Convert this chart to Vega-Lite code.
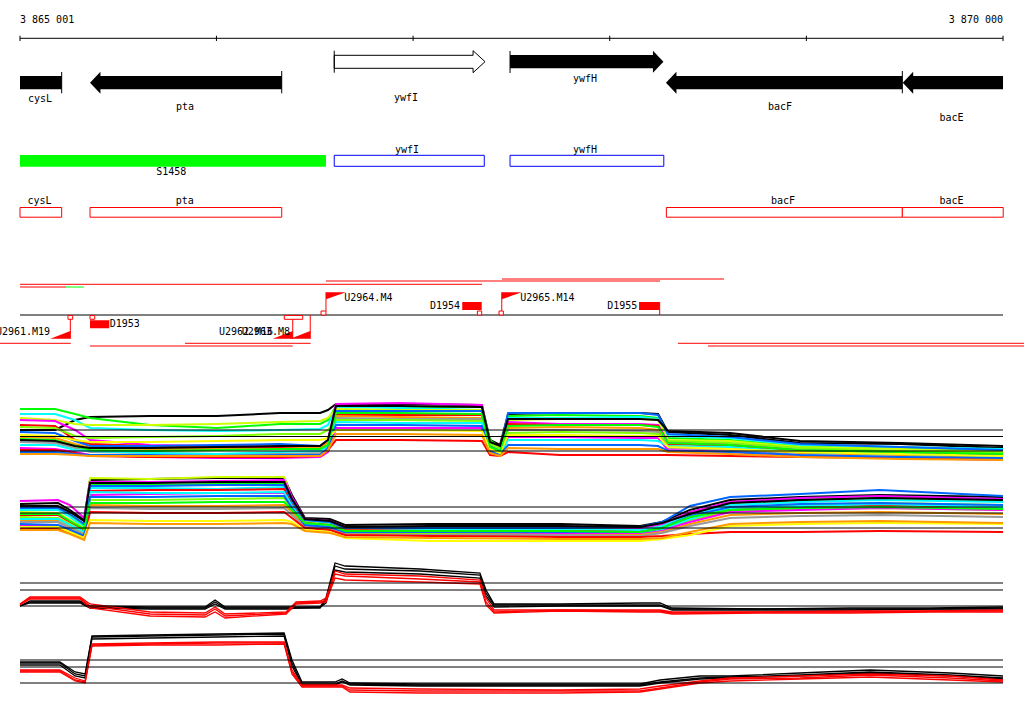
{
"$schema": "https://vega.github.io/schema/vega-lite/v6.json",
"padding": 0,
"spacing": 0,
"bounds": "flush",
"background": "white",
"config": {"view": {"stroke": null}, "axis": {"disable": true}, "legend": {"disable": true}, "text": {"font": "DejaVu Sans Mono", "fontSize": 10, "baseline": "middle", "color": "black"}},
"vconcat": [
{
"width": 1024, "height": 370,
"encoding": {
 "x": {"field": "a", "type": "quantitative", "scale": {"domain": [3864899.3, 3870106.7], "nice": false, "zero": false}, "axis": null},
 "y": {"field": "t", "type": "quantitative", "scale": {"domain": [0, 37], "reverse": true, "nice": false, "zero": false}, "axis": null}
},
"layer": [
 {"data": {"values": [{"a": 3865001, "b": 3870000, "t": 3.83}]}, "mark": {"type": "rule", "color": "black", "strokeWidth": 1}, "encoding": {"x2": {"field": "b"}}},
 {"data": {"values": [{"a": 3865001, "t": 3.57, "u": 4.1}, {"a": 3866000, "t": 3.57, "u": 4.1}, {"a": 3867000, "t": 3.57, "u": 4.1}, {"a": 3868000, "t": 3.57, "u": 4.1}, {"a": 3869000, "t": 3.57, "u": 4.1}, {"a": 3870000, "t": 3.57, "u": 4.1}]}, "mark": {"type": "rule", "color": "black", "strokeWidth": 1}, "encoding": {"y2": {"field": "u"}}},
 {"data": {"values": [{"a": 3865001, "t": 2.03, "label": "3 865 001"}]}, "mark": {"type": "text", "align": "left"}, "encoding": {"text": {"field": "label"}}},
 {"data": {"values": [{"a": 3870000, "t": 2.03, "label": "3 870 000"}]}, "mark": {"type": "text", "align": "right"}, "encoding": {"text": {"field": "label"}}},
 {"data": {"values": [
   {"a": 3865001, "b": 3865213, "t": 7.6, "u": 8.93},
   {"a": 3865403, "b": 3866332, "t": 7.6, "u": 8.93},
   {"a": 3867493, "b": 3868220, "t": 5.5, "u": 6.83},
   {"a": 3868333, "b": 3869488, "t": 7.6, "u": 8.93},
   {"a": 3869537, "b": 3870000, "t": 7.6, "u": 8.93}]},
  "mark": {"type": "rect", "color": "black"}, "encoding": {"x2": {"field": "b"}, "y2": {"field": "u"}}},
 {"data": {"values": [{"a": 3865357, "t": 8.27}, {"a": 3868286, "t": 8.27}, {"a": 3869490, "t": 8.27}]},
  "mark": {"type": "point", "shape": "M 0 0 L 0.95 -1 L 0.95 1 Z", "size": 484, "filled": true, "color": "black", "opacity": 1, "strokeWidth": 0}},
 {"data": {"values": [{"a": 3868273, "t": 6.17}]},
  "mark": {"type": "point", "shape": "M 0 0 L -0.95 -1 L -0.95 1 Z", "size": 484, "filled": true, "color": "black", "opacity": 1, "strokeWidth": 0}},
 {"data": {"values": [
   {"a": 3866599, "t": 5.53, "o": 1}, {"a": 3867305, "t": 5.53, "o": 2}, {"a": 3867305, "t": 5.07, "o": 3}, {"a": 3867366, "t": 6.17, "o": 4},
   {"a": 3867305, "t": 7.27, "o": 5}, {"a": 3867305, "t": 6.83, "o": 6}, {"a": 3866599, "t": 6.83, "o": 7}, {"a": 3866599, "t": 5.53, "o": 8}]},
  "mark": {"type": "line", "color": "black", "strokeWidth": 1}, "encoding": {"order": {"field": "o", "type": "quantitative"}}},
 {"data": {"values": [
   {"a": 3865213, "t": 7.2, "u": 9.33}, {"a": 3866332, "t": 7.1, "u": 9.33}, {"a": 3869488, "t": 7.1, "u": 9.33},
   {"a": 3866599, "t": 5.07, "u": 7.27}, {"a": 3867493, "t": 5.1, "u": 7.3}]},
  "mark": {"type": "rule", "color": "black", "strokeWidth": 1}, "encoding": {"y2": {"field": "u"}}},
 {"data": {"values": [
   {"a": 3865103, "t": 9.85, "label": "cysL"}, {"a": 3865840, "t": 10.7, "label": "pta"}, {"a": 3866964, "t": 9.8, "label": "ywfI"},
   {"a": 3867874, "t": 7.9, "label": "ywfH"}, {"a": 3868866, "t": 10.7, "label": "bacF"}, {"a": 3869738, "t": 11.75, "label": "bacE"}]},
  "mark": {"type": "text", "align": "center"}, "encoding": {"text": {"field": "label"}}},
 {"data": {"values": [{"a": 3865001, "b": 3866557, "t": 15.5, "u": 16.67}]}, "mark": {"type": "rect", "color": "#00ff00"}, "encoding": {"x2": {"field": "b"}, "y2": {"field": "u"}}},
 {"data": {"values": [{"a": 3866599, "b": 3867362, "t": 15.53, "u": 16.63}, {"a": 3867493, "b": 3868275, "t": 15.53, "u": 16.63}]},
  "mark": {"type": "rect", "fill": "white", "stroke": "#0000ff", "strokeWidth": 1}, "encoding": {"x2": {"field": "b"}, "y2": {"field": "u"}}},
 {"data": {"values": [
   {"a": 3865001, "b": 3865213, "t": 20.75, "u": 21.72}, {"a": 3865357, "b": 3866332, "t": 20.75, "u": 21.72},
   {"a": 3868288, "b": 3869488, "t": 20.75, "u": 21.72}, {"a": 3869488, "b": 3870001, "t": 20.75, "u": 21.72}]},
  "mark": {"type": "rect", "fill": "white", "stroke": "#ff0000", "strokeWidth": 1}, "encoding": {"x2": {"field": "b"}, "y2": {"field": "u"}}},
 {"data": {"values": [
   {"a": 3865770, "t": 17.23, "label": "S1458"}, {"a": 3866969, "t": 14.95, "label": "ywfI"}, {"a": 3867874, "t": 14.95, "label": "ywfH"},
   {"a": 3865100, "t": 20.08, "label": "cysL"}, {"a": 3865839, "t": 20.08, "label": "pta"}, {"a": 3868881, "t": 20.08, "label": "bacF"}, {"a": 3869738, "t": 20.08, "label": "bacE"}]},
  "mark": {"type": "text", "align": "center"}, "encoding": {"text": {"field": "label"}}},
 {"data": {"values": [
   {"a": 3866557, "b": 3868256, "t": 28.1}, {"a": 3867452, "b": 3868581, "t": 27.9}, {"a": 3865001, "b": 3867350, "t": 28.43},
   {"a": 3865001, "b": 3865235, "t": 28.7}, {"a": 3864899.3, "b": 3865259, "t": 34.33}, {"a": 3865840, "b": 3866479, "t": 34.33},
   {"a": 3868347, "b": 3870106.7, "t": 34.33}, {"a": 3865357, "b": 3866388, "t": 34.6}, {"a": 3868500, "b": 3870106.7, "t": 34.6}]},
  "mark": {"type": "rule", "color": "#ff0000", "strokeWidth": 1, "clip": true}, "encoding": {"x2": {"field": "b"}}},
 {"data": {"values": [{"a": 3865235, "b": 3865326, "t": 28.7}]}, "mark": {"type": "rule", "color": "#00ff00", "strokeWidth": 1}, "encoding": {"x2": {"field": "b"}}},
 {"data": {"values": [{"a": 3865001, "b": 3870000, "t": 31.5}]}, "mark": {"type": "rule", "color": "black", "strokeWidth": 1}, "encoding": {"x2": {"field": "b"}}},
 {"data": {"values": [
   {"a": 3867250, "b": 3867349, "t": 30.2, "u": 31.0}, {"a": 3868149, "b": 3868254, "t": 30.2, "u": 31.0}, {"a": 3865357, "b": 3865455, "t": 32.03, "u": 32.83}]},
  "mark": {"type": "rect", "color": "#ff0000"}, "encoding": {"x2": {"field": "b"}, "y2": {"field": "u"}}},
 {"data": {"values": [
   {"a": 3866532, "b": 3866557, "t": 31.1, "u": 31.5}, {"a": 3867327, "b": 3867349, "t": 31.1, "u": 31.5}, {"a": 3867437, "b": 3867459, "t": 31.1, "u": 31.5},
   {"a": 3865245, "b": 3865269, "t": 31.55, "u": 31.93}, {"a": 3865357, "b": 3865381, "t": 31.55, "u": 31.93}, {"a": 3866345, "b": 3866439, "t": 31.55, "u": 31.93}]},
  "mark": {"type": "rect", "fill": "white", "stroke": "#ff0000", "strokeWidth": 1}, "encoding": {"x2": {"field": "b"}, "y2": {"field": "u"}}},
 {"data": {"values": [
   {"a": 3866557, "t": 29.23, "u": 31.1}, {"a": 3867451, "t": 29.23, "u": 31.1}, {"a": 3865257, "t": 31.93, "u": 33.87},
   {"a": 3866388, "t": 31.93, "u": 33.87}, {"a": 3866477, "t": 31.5, "u": 33.87}, {"a": 3868254, "t": 30.2, "u": 31.5}]},
  "mark": {"type": "rule", "color": "#ff0000", "strokeWidth": 1}, "encoding": {"y2": {"field": "u"}}},
 {"data": {"values": [{"a": 3866557, "t": 29.23}, {"a": 3867451, "t": 29.23}]},
  "mark": {"type": "point", "shape": "M 0 0 L 2 0 L 0 0.7 Z", "size": 400, "filled": true, "color": "#ff0000", "opacity": 1, "strokeWidth": 0}},
 {"data": {"values": [{"a": 3865257, "t": 33.87}, {"a": 3866388, "t": 33.87}, {"a": 3866477, "t": 33.87}]},
  "mark": {"type": "point", "shape": "M 0 0 L -2 0 L 0 -0.77 Z", "size": 400, "filled": true, "color": "#ff0000", "opacity": 1, "strokeWidth": 0}},
 {"data": {"values": [
   {"a": 3866650, "t": 29.78, "label": "U2964.M4"}, {"a": 3867545, "t": 29.78, "label": "U2965.M14"}, {"a": 3865457, "t": 32.4, "label": "D1953"}]},
  "mark": {"type": "text", "align": "left"}, "encoding": {"text": {"field": "label"}}},
 {"data": {"values": [
   {"a": 3867239, "t": 30.6, "label": "D1954"}, {"a": 3868140, "t": 30.6, "label": "D1955"}, {"a": 3865154, "t": 33.2, "label": "U2961.M19"},
   {"a": 3866288, "t": 33.2, "label": "U2962.M16"}, {"a": 3866374, "t": 33.2, "label": "U2963.M8"}]},
  "mark": {"type": "text", "align": "right", "clip": true}, "encoding": {"text": {"field": "label"}}}
]
},
{
"width": 1024, "height": 95,
"encoding": {
 "x": {"field": "a", "type": "quantitative", "scale": {"domain": [3864899.3, 3870106.7], "nice": false, "zero": false}, "axis": null},
 "y": {"field": "v", "type": "quantitative", "scale": {"domain": [-1.4, 8.1], "nice": false, "zero": false}, "axis": null}
},
"layer": [
 {"data": {"values": [
{"a":3865001,"k":2.1,"g":4.2,"c":3.7,"ye":3.3,"m":3.1,"r":2.6,"bl":1.9,"o":1.4,"gr":0.9,"l":2.4,"m2":0.3,"r2":0.1,"c2":0.6,"b2":-0.1,"y2":1.6,"o2":-0.3,"g2":1.2,"k2":1.1},
{"a":3865179,"k":2.1,"g":4.2,"c":3.7,"ye":3.1,"m":3.0,"r":2.5,"bl":1.8,"o":1.3,"gr":0.8,"l":2.3,"m2":0.2,"r2":0.1,"c2":0.6,"b2":-0.1,"y2":1.5,"o2":-0.3,"g2":1.1,"k2":1.0},
{"a":3865281,"k":3.1,"g":3.7,"c":3.1,"ye":2.7,"m":2.1,"r":1.1,"bl":1.0,"o":0.7,"gr":0.3,"l":1.5,"m2":-0.1,"r2":-0.2,"c2":0.1,"b2":-0.3,"y2":1.1,"o2":-0.4,"g2":0.5,"k2":0.5},
{"a":3865357,"k":3.4,"g":3.3,"c":2.3,"ye":2.6,"m":1.1,"r":0.7,"bl":0.5,"o":0.3,"gr":-0.1,"l":1.3,"m2":-0.4,"r2":-0.5,"c2":0.0,"b2":-0.4,"y2":0.9,"o2":-0.5,"g2":0.1,"k2":0.3},
{"a":3865662,"k":3.5,"g":2.6,"c":2.1,"ye":2.6,"m":0.6,"r":0.5,"bl":0.5,"o":0.2,"gr":-0.2,"l":1.4,"m2":-0.6,"r2":-0.6,"c2":-0.2,"b2":-0.4,"y2":0.9,"o2":-0.5,"g2":0.0,"k2":0.3},
{"a":3866003,"k":3.5,"g":2.3,"c":2.0,"ye":2.7,"m":0.5,"r":0.3,"bl":0.6,"o":0.2,"gr":-0.3,"l":1.5,"m2":-0.7,"r2":-0.6,"c2":-0.3,"b2":-0.5,"y2":1.0,"o2":-0.5,"g2":0.1,"k2":0.4},
{"a":3866323,"k":3.8,"g":2.7,"c":2.1,"ye":2.9,"m":0.4,"r":0.3,"bl":0.7,"o":0.2,"gr":-0.3,"l":1.7,"m2":-0.7,"r2":-0.6,"c2":-0.1,"b2":-0.4,"y2":1.1,"o2":-0.5,"g2":0.2,"k2":0.5},
{"a":3866527,"k":3.8,"g":2.7,"c":2.2,"ye":3.0,"m":0.5,"r":0.4,"bl":0.5,"o":0.4,"gr":-0.2,"l":1.7,"m2":-0.6,"r2":-0.5,"c2":0.0,"b2":-0.4,"y2":1.1,"o2":-0.5,"g2":0.2,"k2":0.5},
{"a":3866567,"k":4.1,"g":3.1,"c":2.6,"ye":3.3,"m":1.1,"r":0.9,"bl":1.1,"o":0.9,"gr":0.1,"l":2.1,"m2":-0.1,"r2":0.1,"c2":0.5,"b2":0.3,"y2":1.3,"o2":0.1,"g2":0.6,"k2":1.1},
{"a":3866608,"k":4.7,"g":4.5,"c":4.4,"ye":4.2,"m":4.7,"r":3.6,"bl":4.0,"o":3.5,"gr":3.3,"l":3.1,"m2":2.3,"r2":1.1,"c2":2.9,"b2":2.6,"y2":2.1,"o2":1.7,"g2":3.8,"k2":4.5},
{"a":3866934,"k":4.7,"g":4.4,"c":4.3,"ye":4.1,"m":4.8,"r":3.6,"bl":4.0,"o":3.4,"gr":3.2,"l":3.1,"m2":2.3,"r2":1.1,"c2":2.8,"b2":2.6,"y2":2.1,"o2":1.7,"g2":3.8,"k2":4.5},
{"a":3867350,"k":4.6,"g":4.4,"c":4.1,"ye":4.1,"m":4.6,"r":3.6,"bl":4.0,"o":3.3,"gr":3.2,"l":3.0,"m2":2.3,"r2":1.0,"c2":2.8,"b2":2.5,"y2":2.0,"o2":1.6,"g2":3.7,"k2":4.4},
{"a":3867391,"k":1.1,"g":1.1,"c":0.6,"ye":0.8,"m":0.4,"r":0.2,"bl":0.5,"o":0.3,"gr":0.0,"l":0.7,"m2":-0.1,"r2":-0.4,"c2":0.1,"b2":0.0,"y2":0.2,"o2":-0.2,"g2":0.4,"k2":0.9},
{"a":3867442,"k":0.6,"g":0.3,"c":0.1,"ye":0.4,"m":-0.1,"r":-0.2,"bl":0.1,"o":-0.3,"gr":-0.4,"l":0.2,"m2":-0.4,"r2":-0.5,"c2":-0.3,"b2":-0.4,"y2":-0.2,"o2":-0.5,"g2":0.0,"k2":0.5},
{"a":3867483,"k":3.7,"g":3.5,"c":3.3,"ye":3.1,"m":2.9,"r":2.7,"bl":3.8,"o":2.3,"gr":2.1,"l":1.8,"m2":1.4,"r2":-0.1,"c2":1.1,"b2":0.6,"y2":1.6,"o2":0.3,"g2":2.5,"k2":3.2},
{"a":3867747,"k":3.8,"g":3.6,"c":3.3,"ye":3.2,"m":2.7,"r":2.6,"bl":3.8,"o":2.4,"gr":2.1,"l":1.9,"m2":1.4,"r2":-0.4,"c2":1.1,"b2":0.6,"y2":1.6,"o2":0.2,"g2":2.6,"k2":3.2},
{"a":3868154,"k":3.8,"g":3.5,"c":3.4,"ye":3.2,"m":2.7,"r":2.6,"bl":3.8,"o":2.3,"gr":2.0,"l":1.8,"m2":1.3,"r2":-0.4,"c2":1.1,"b2":0.6,"y2":1.5,"o2":0.2,"g2":2.6,"k2":3.2},
{"a":3868246,"k":3.7,"g":3.3,"c":3.2,"ye":3.1,"m":2.6,"r":2.5,"bl":3.6,"o":2.1,"gr":1.9,"l":1.7,"m2":1.3,"r2":-0.4,"c2":1.0,"b2":0.5,"y2":1.5,"o2":0.2,"g2":2.4,"k2":3.1},
{"a":3868296,"k":1.9,"g":1.3,"c":1.5,"ye":1.1,"m":0.9,"r":0.7,"bl":1.7,"o":0.5,"gr":0.3,"l":1.0,"m2":0.1,"r2":-0.4,"c2":0.5,"b2":0.0,"y2":0.4,"o2":-0.1,"g2":0.8,"k2":2.0},
{"a":3868612,"k":1.6,"g":1.1,"c":1.3,"ye":1.0,"m":0.7,"r":0.5,"bl":1.4,"o":0.3,"gr":0.1,"l":0.8,"m2":-0.1,"r2":-0.5,"c2":0.4,"b2":-0.1,"y2":0.2,"o2":-0.3,"g2":0.6,"k2":1.8},
{"a":3868968,"k":0.8,"g":0.5,"c":0.6,"ye":0.4,"m":0.1,"r":0.0,"bl":0.7,"o":-0.2,"gr":-0.4,"l":0.3,"m2":-0.5,"r2":-0.6,"c2":-0.1,"b2":-0.4,"y2":-0.1,"o2":-0.6,"g2":0.1,"k2":1.0},
{"a":3869476,"k":0.7,"g":0.3,"c":0.4,"ye":0.2,"m":-0.1,"r":-0.2,"bl":0.4,"o":-0.4,"gr":-0.6,"l":0.0,"m2":-0.7,"r2":-0.7,"c2":-0.3,"b2":-0.6,"y2":-0.3,"o2":-0.8,"g2":-0.1,"k2":0.8},
{"a":3870000,"k":0.3,"g":0.1,"c":0.2,"ye":-0.1,"m":-0.4,"r":-0.5,"bl":0.1,"o":-0.6,"gr":-0.8,"l":-0.2,"m2":-0.9,"r2":-0.7,"c2":-0.5,"b2":-0.7,"y2":-0.5,"o2":-0.9,"g2":-0.3,"k2":0.5}
  ]},
  "transform": [{"fold": ["k","g","c","ye","m","r","bl","o","gr","l","m2","r2","c2","b2","y2","o2","g2","k2"], "as": ["s", "v"]}],
  "mark": {"type": "line", "strokeWidth": 2, "clip": true},
  "encoding": {"color": {"field": "s", "type": "nominal", "legend": null, "scale": {"domain": ["k","g","c","ye","m","r","bl","o","gr","l","m2","r2","c2","b2","y2","o2","g2","k2","K1","K2","K3","R1","R2","R3"], "range": ["#000000","#00ff00","#00ffff","#ccff00","#ff00ff","#ff0000","#0066ff","#ff9900","#999999","#80ff00","#ff00ff","#ff0000","#00ffff","#0066ff","#ffff00","#ff9900","#00ff00","#000000","#000000","#000000","#000000","#ff0000","#ff0000","#ff0000"]}}}
 },
 {"data": {"values": [{"a": 3865001, "b": 3870000, "v": 0}, {"a": 3865001, "b": 3870000, "v": 1.45}, {"a": 3865001, "b": 3870000, "v": 2.1}]},
  "mark": {"type": "rule", "color": "black", "strokeWidth": 1}, "encoding": {"x2": {"field": "b"}}}
]
},
{
"width": 1024, "height": 85,
"encoding": {
 "x": {"field": "a", "type": "quantitative", "scale": {"domain": [3864899.3, 3870106.7], "nice": false, "zero": false}, "axis": null},
 "y": {"field": "v", "type": "quantitative", "scale": {"domain": [-2.2, 6.3], "nice": false, "zero": false}, "axis": null}
},
"layer": [
 {"data": {"values": [
{"a":3865001,"k":2.4,"g":2.1,"c":1.8,"ye":1.6,"m":2.7,"r":1.3,"bl":2.0,"o":0.8,"gr":0.6,"l":1.1,"m2":0.3,"r2":-0.1,"c2":0.9,"b2":0.4,"y2":0.1,"o2":-0.2,"g2":1.4,"k2":2.2},
{"a":3865194,"k":2.5,"g":2.1,"c":1.8,"ye":1.5,"m":2.8,"r":1.3,"bl":2.0,"o":0.8,"gr":0.6,"l":1.0,"m2":0.3,"r2":-0.1,"c2":0.9,"b2":0.3,"y2":0.1,"o2":-0.2,"g2":1.4,"k2":2.2},
{"a":3865255,"k":1.8,"g":1.3,"c":1.1,"ye":0.8,"m":2.3,"r":0.6,"bl":1.4,"o":0.2,"gr":0.0,"l":0.4,"m2":-0.2,"r2":-0.5,"c2":0.3,"b2":-0.2,"y2":-0.4,"o2":-0.6,"g2":0.7,"k2":1.6},
{"a":3865327,"k":0.8,"g":0.3,"c":0.1,"ye":0.0,"m":1.0,"r":-0.2,"bl":0.4,"o":-0.6,"gr":-0.7,"l":-0.4,"m2":-0.9,"r2":-1.1,"c2":-0.4,"b2":-0.8,"y2":-1.0,"o2":-1.2,"g2":-0.1,"k2":0.7},
{"a":3865357,"k":4.8,"g":4.4,"c":4.0,"ye":5.0,"m":4.6,"r":3.7,"bl":4.2,"o":2.3,"gr":2.0,"l":2.8,"m2":3.3,"r2":1.6,"c2":3.6,"b2":3.1,"y2":0.8,"o2":0.5,"g2":2.5,"k2":4.5},
{"a":3865662,"k":4.9,"g":4.3,"c":4.0,"ye":4.9,"m":4.6,"r":3.8,"bl":4.2,"o":2.2,"gr":1.9,"l":2.8,"m2":3.4,"r2":1.5,"c2":3.5,"b2":3.1,"y2":0.7,"o2":0.4,"g2":2.5,"k2":4.5},
{"a":3866003,"k":5.0,"g":4.4,"c":3.9,"ye":5.1,"m":4.7,"r":3.8,"bl":4.3,"o":2.2,"gr":1.9,"l":2.9,"m2":3.5,"r2":1.5,"c2":3.5,"b2":3.2,"y2":0.7,"o2":0.4,"g2":2.6,"k2":4.6},
{"a":3866344,"k":5.0,"g":4.5,"c":4.1,"ye":5.1,"m":4.8,"r":3.9,"bl":4.3,"o":2.3,"gr":2.0,"l":3.0,"m2":3.5,"r2":1.6,"c2":3.6,"b2":3.2,"y2":0.8,"o2":0.5,"g2":2.6,"k2":4.6},
{"a":3866384,"k":3.3,"g":2.8,"c":2.5,"ye":3.0,"m":3.1,"r":2.3,"bl":2.7,"o":1.6,"gr":1.3,"l":1.9,"m2":2.1,"r2":1.0,"c2":2.2,"b2":2.0,"y2":0.6,"o2":0.4,"g2":1.8,"k2":2.9},
{"a":3866450,"k":1.0,"g":0.8,"c":0.7,"ye":0.6,"m":0.9,"r":0.5,"bl":0.8,"o":0.2,"gr":0.1,"l":0.4,"m2":0.3,"r2":0.0,"c2":0.4,"b2":0.3,"y2":-0.2,"o2":-0.3,"g2":0.5,"k2":0.9},
{"a":3866577,"k":0.9,"g":0.6,"c":0.5,"ye":0.3,"m":0.7,"r":0.3,"bl":0.6,"o":0.0,"gr":-0.1,"l":0.1,"m2":0.1,"r2":-0.2,"c2":0.2,"b2":0.1,"y2":-0.4,"o2":-0.5,"g2":0.3,"k2":0.7},
{"a":3866654,"k":0.3,"g":0.0,"c":-0.1,"ye":-0.2,"m":0.1,"r":-0.2,"bl":0.0,"o":-0.5,"gr":-0.6,"l":-0.4,"m2":-0.4,"r2":-0.7,"c2":-0.3,"b2":-0.4,"y2":-1.0,"o2":-0.9,"g2":-0.3,"k2":0.1},
{"a":3867087,"k":0.4,"g":0.0,"c":-0.1,"ye":-0.4,"m":0.1,"r":-0.3,"bl":0.0,"o":-0.5,"gr":-0.7,"l":-0.5,"m2":-0.4,"r2":-0.8,"c2":-0.3,"b2":-0.4,"y2":-1.3,"o2":-1.0,"g2":-0.3,"k2":0.2},
{"a":3867747,"k":0.4,"g":0.0,"c":-0.2,"ye":-0.6,"m":0.1,"r":-0.3,"bl":0.0,"o":-0.6,"gr":-0.7,"l":-0.5,"m2":-0.5,"r2":-0.9,"c2":-0.4,"b2":-0.4,"y2":-1.3,"o2":-1.1,"g2":-0.3,"k2":0.2},
{"a":3868154,"k":0.2,"g":0.0,"c":-0.2,"ye":-0.7,"m":0.0,"r":-0.4,"bl":0.1,"o":-0.6,"gr":-0.8,"l":-0.5,"m2":-0.5,"r2":-0.9,"c2":-0.4,"b2":-0.4,"y2":-1.3,"o2":-1.1,"g2":-0.4,"k2":0.1},
{"a":3868266,"k":0.6,"g":0.4,"c":0.2,"ye":-0.2,"m":0.4,"r":-0.1,"bl":0.6,"o":-0.4,"gr":-0.5,"l":-0.2,"m2":-0.2,"r2":-0.8,"c2":-0.1,"b2":0.0,"y2":-1.1,"o2":-1.0,"g2":0.0,"k2":0.5},
{"a":3868408,"k":1.8,"g":1.6,"c":1.4,"ye":0.8,"m":1.6,"r":1.0,"bl":2.2,"o":0.4,"gr":0.2,"l":0.8,"m2":0.6,"r2":-0.6,"c2":0.9,"b2":1.2,"y2":-0.7,"o2":-0.4,"g2":1.1,"k2":1.4},
{"a":3868612,"k":2.8,"g":2.5,"c":2.3,"ye":2.0,"m":2.6,"r":1.9,"bl":3.1,"o":1.3,"gr":1.0,"l":1.7,"m2":1.6,"r2":-0.4,"c2":2.0,"b2":2.1,"y2":0.2,"o2":0.4,"g2":1.8,"k2":2.5},
{"a":3868968,"k":3.1,"g":2.8,"c":2.6,"ye":2.3,"m":3.0,"r":2.2,"bl":3.4,"o":1.5,"gr":1.2,"l":1.9,"m2":1.8,"r2":-0.4,"c2":2.2,"b2":2.4,"y2":0.4,"o2":0.6,"g2":2.0,"k2":2.8},
{"a":3869374,"k":3.3,"g":3.0,"c":2.8,"ye":2.5,"m":3.2,"r":2.3,"bl":3.8,"o":1.6,"gr":1.3,"l":2.0,"m2":2.0,"r2":-0.3,"c2":2.4,"b2":2.5,"y2":0.5,"o2":0.7,"g2":2.1,"k2":3.0},
{"a":3870000,"k":3.1,"g":2.8,"c":2.6,"ye":2.3,"m":2.9,"r":2.1,"bl":3.2,"o":1.4,"gr":1.1,"l":1.8,"m2":1.8,"r2":-0.4,"c2":2.1,"b2":2.3,"y2":0.4,"o2":0.5,"g2":1.9,"k2":2.8}
  ]},
  "transform": [{"fold": ["k","g","c","ye","m","r","bl","o","gr","l","m2","r2","c2","b2","y2","o2","g2","k2"], "as": ["s", "v"]}],
  "mark": {"type": "line", "strokeWidth": 2, "clip": true},
  "encoding": {"color": {"field": "s", "type": "nominal", "legend": null, "scale": {"domain": ["k","g","c","ye","m","r","bl","o","gr","l","m2","r2","c2","b2","y2","o2","g2","k2","K1","K2","K3","R1","R2","R3"], "range": ["#000000","#00ff00","#00ffff","#ccff00","#ff00ff","#ff0000","#0066ff","#ff9900","#999999","#80ff00","#ff00ff","#ff0000","#00ffff","#0066ff","#ffff00","#ff9900","#00ff00","#000000","#000000","#000000","#000000","#ff0000","#ff0000","#ff0000"]}}}
 },
 {"data": {"values": [{"a": 3865001, "b": 3870000, "v": 0}, {"a": 3865001, "b": 3870000, "v": 1.5}, {"a": 3865001, "b": 3870000, "v": 2.1}]},
  "mark": {"type": "rule", "color": "black", "strokeWidth": 1}, "encoding": {"x2": {"field": "b"}}}
]
},
{
"width": 1024, "height": 78,
"encoding": {
 "x": {"field": "a", "type": "quantitative", "scale": {"domain": [3864899.3, 3870106.7], "nice": false, "zero": false}, "axis": null},
 "y": {"field": "v", "type": "quantitative", "scale": {"domain": [-2.2, 5.6], "nice": false, "zero": false}, "axis": null}
},
"layer": [
 {"data": {"values": [
{"a":3865001,"K1":0.0,"K2":0.0,"K3":0.0,"R1":0.2,"R2":0.2,"R3":0.1},
{"a":3865052,"K1":0.5,"K2":0.4,"K3":0.3,"R1":0.9,"R2":0.8,"R3":0.7},
{"a":3865306,"K1":0.5,"K2":0.4,"K3":0.3,"R1":0.9,"R2":0.8,"R3":0.7},
{"a":3865357,"K1":0.0,"K2":-0.1,"K3":-0.2,"R1":0.2,"R2":0.0,"R3":-0.2},
{"a":3865662,"K1":-0.1,"K2":-0.2,"K3":-0.3,"R1":-0.6,"R2":-0.8,"R3":-1.0},
{"a":3865942,"K1":-0.1,"K2":-0.2,"K3":-0.3,"R1":-0.7,"R2":-0.9,"R3":-1.1},
{"a":3865993,"K1":0.6,"K2":0.4,"K3":0.2,"R1":-0.1,"R2":-0.3,"R3":-0.6},
{"a":3866044,"K1":-0.1,"K2":-0.2,"K3":-0.3,"R1":-0.8,"R2":-1.0,"R3":-1.2},
{"a":3866354,"K1":-0.1,"K2":-0.2,"K3":-0.3,"R1":-0.6,"R2":-0.7,"R3":-0.8},
{"a":3866405,"K1":-0.1,"K2":-0.2,"K3":-0.2,"R1":0.4,"R2":0.3,"R3":0.2},
{"a":3866527,"K1":-0.1,"K2":-0.2,"K3":-0.1,"R1":0.5,"R2":0.4,"R3":0.3},
{"a":3866557,"K1":0.8,"K2":0.6,"K3":0.3,"R1":0.8,"R2":0.6,"R3":0.4},
{"a":3866603,"K1":4.3,"K2":4.0,"K3":3.6,"R1":3.5,"R2":3.2,"R3":2.8},
{"a":3866654,"K1":4.0,"K2":3.7,"K3":3.4,"R1":3.2,"R2":3.0,"R3":2.6},
{"a":3867035,"K1":3.7,"K2":3.5,"K3":3.2,"R1":3.0,"R2":2.7,"R3":2.4},
{"a":3867340,"K1":3.3,"K2":3.1,"K3":2.8,"R1":2.6,"R2":2.4,"R3":2.2},
{"a":3867371,"K1":1.6,"K2":1.3,"K3":1.0,"R1":0.8,"R2":0.4,"R3":0.1},
{"a":3867412,"K1":0.2,"K2":0.1,"K3":-0.1,"R1":-0.4,"R2":-0.6,"R3":-0.7},
{"a":3867747,"K1":0.2,"K2":0.1,"K3":0.0,"R1":-0.4,"R2":-0.4,"R3":-0.5},
{"a":3868154,"K1":0.3,"K2":0.1,"K3":0.0,"R1":-0.4,"R2":-0.5,"R3":-0.6},
{"a":3868256,"K1":0.3,"K2":0.1,"K3":0.0,"R1":-0.4,"R2":-0.5,"R3":-0.6},
{"a":3868317,"K1":-0.2,"K2":-0.3,"K3":-0.4,"R1":-0.6,"R2":-0.7,"R3":-0.8},
{"a":3868764,"K1":-0.3,"K2":-0.3,"K3":-0.4,"R1":-0.6,"R2":-0.6,"R3":-0.7},
{"a":3869222,"K1":-0.2,"K2":-0.3,"K3":-0.4,"R1":-0.5,"R2":-0.6,"R3":-0.7},
{"a":3869629,"K1":-0.2,"K2":-0.3,"K3":-0.3,"R1":-0.5,"R2":-0.5,"R3":-0.6},
{"a":3870000,"K1":-0.1,"K2":-0.2,"K3":-0.3,"R1":-0.4,"R2":-0.5,"R3":-0.6}
  ]},
  "transform": [{"fold": ["K1","K2","K3","R1","R2","R3"], "as": ["s", "v"]}],
  "mark": {"type": "line", "strokeWidth": 1.3, "clip": true},
  "encoding": {"color": {"field": "s", "type": "nominal", "legend": null, "scale": {"domain": ["k","g","c","ye","m","r","bl","o","gr","l","m2","r2","c2","b2","y2","o2","g2","k2","K1","K2","K3","R1","R2","R3"], "range": ["#000000","#00ff00","#00ffff","#ccff00","#ff00ff","#ff0000","#0066ff","#ff9900","#999999","#80ff00","#ff00ff","#ff0000","#00ffff","#0066ff","#ffff00","#ff9900","#00ff00","#000000","#000000","#000000","#000000","#ff0000","#ff0000","#ff0000"]}}}
 },
 {"data": {"values": [{"a": 3865001, "b": 3870000, "v": 0}, {"a": 3865001, "b": 3870000, "v": 1.6}, {"a": 3865001, "b": 3870000, "v": 2.3}]},
  "mark": {"type": "rule", "color": "black", "strokeWidth": 1}, "encoding": {"x2": {"field": "b"}}}
]
},
{
"width": 1024, "height": 86,
"encoding": {
 "x": {"field": "a", "type": "quantitative", "scale": {"domain": [3864899.3, 3870106.7], "nice": false, "zero": false}, "axis": null},
 "y": {"field": "v", "type": "quantitative", "scale": {"domain": [-3.1, 5.5], "nice": false, "zero": false}, "axis": null}
},
"layer": [
 {"data": {"values": [
{"a":3865001,"K1":2.1,"K2":2.0,"K3":1.8,"R1":1.3,"R2":1.2,"R3":1.1},
{"a":3865204,"K1":2.1,"K2":2.0,"K3":1.8,"R1":1.3,"R2":1.2,"R3":1.1},
{"a":3865281,"K1":1.1,"K2":0.9,"K3":0.7,"R1":0.5,"R2":0.3,"R3":0.2},
{"a":3865332,"K1":0.9,"K2":0.7,"K3":0.5,"R1":0.2,"R2":0.1,"R3":0.0},
{"a":3865367,"K1":4.7,"K2":4.6,"K3":4.4,"R1":3.9,"R2":3.8,"R3":3.7},
{"a":3865662,"K1":4.8,"K2":4.7,"K3":4.5,"R1":4.0,"R2":3.9,"R3":3.8},
{"a":3866003,"K1":4.9,"K2":4.8,"K3":4.6,"R1":4.1,"R2":4.0,"R3":3.8},
{"a":3866344,"K1":5.0,"K2":4.9,"K3":4.7,"R1":4.1,"R2":4.0,"R3":3.9},
{"a":3866384,"K1":2.3,"K2":2.0,"K3":1.7,"R1":1.3,"R2":1.1,"R3":0.9},
{"a":3866435,"K1":0.1,"K2":-0.1,"K3":-0.2,"R1":-0.2,"R2":-0.3,"R3":-0.4},
{"a":3866603,"K1":0.1,"K2":-0.1,"K3":-0.2,"R1":-0.2,"R2":-0.3,"R3":-0.4},
{"a":3866639,"K1":0.4,"K2":0.2,"K3":0.1,"R1":-0.2,"R2":-0.3,"R3":-0.4},
{"a":3866679,"K1":0.0,"K2":-0.1,"K3":-0.2,"R1":-0.5,"R2":-0.7,"R3":-0.9},
{"a":3867035,"K1":-0.1,"K2":-0.2,"K3":-0.3,"R1":-0.6,"R2":-0.8,"R3":-1.0},
{"a":3867747,"K1":-0.1,"K2":-0.2,"K3":-0.3,"R1":-0.7,"R2":-0.8,"R3":-1.0},
{"a":3868154,"K1":-0.1,"K2":-0.2,"K3":-0.3,"R1":-0.6,"R2":-0.8,"R3":-0.9},
{"a":3868256,"K1":0.3,"K2":0.1,"K3":0.0,"R1":-0.3,"R2":-0.5,"R3":-0.6},
{"a":3868459,"K1":0.7,"K2":0.5,"K3":0.4,"R1":0.2,"R2":0.1,"R3":0.0},
{"a":3868612,"K1":0.7,"K2":0.6,"K3":0.5,"R1":0.5,"R2":0.4,"R3":0.2},
{"a":3868968,"K1":1.0,"K2":0.8,"K3":0.7,"R1":0.7,"R2":0.5,"R3":0.4},
{"a":3869323,"K1":1.3,"K2":1.1,"K3":1.0,"R1":0.9,"R2":0.8,"R3":0.6},
{"a":3869731,"K1":1.0,"K2":0.8,"K3":0.7,"R1":0.7,"R2":0.5,"R3":0.3},
{"a":3870000,"K1":0.7,"K2":0.5,"K3":0.4,"R1":0.3,"R2":0.2,"R3":0.1}
  ]},
  "transform": [{"fold": ["K1","K2","K3","R1","R2","R3"], "as": ["s", "v"]}],
  "mark": {"type": "line", "strokeWidth": 1.3, "clip": true},
  "encoding": {"color": {"field": "s", "type": "nominal", "legend": null, "scale": {"domain": ["k","g","c","ye","m","r","bl","o","gr","l","m2","r2","c2","b2","y2","o2","g2","k2","K1","K2","K3","R1","R2","R3"], "range": ["#000000","#00ff00","#00ffff","#ccff00","#ff00ff","#ff0000","#0066ff","#ff9900","#999999","#80ff00","#ff00ff","#ff0000","#00ffff","#0066ff","#ffff00","#ff9900","#00ff00","#000000","#000000","#000000","#000000","#ff0000","#ff0000","#ff0000"]}}}
 },
 {"data": {"values": [{"a": 3865001, "b": 3870000, "v": 0}, {"a": 3865001, "b": 3870000, "v": 1.6}, {"a": 3865001, "b": 3870000, "v": 2.3}]},
  "mark": {"type": "rule", "color": "black", "strokeWidth": 1}, "encoding": {"x2": {"field": "b"}}}
]
}
]
}
